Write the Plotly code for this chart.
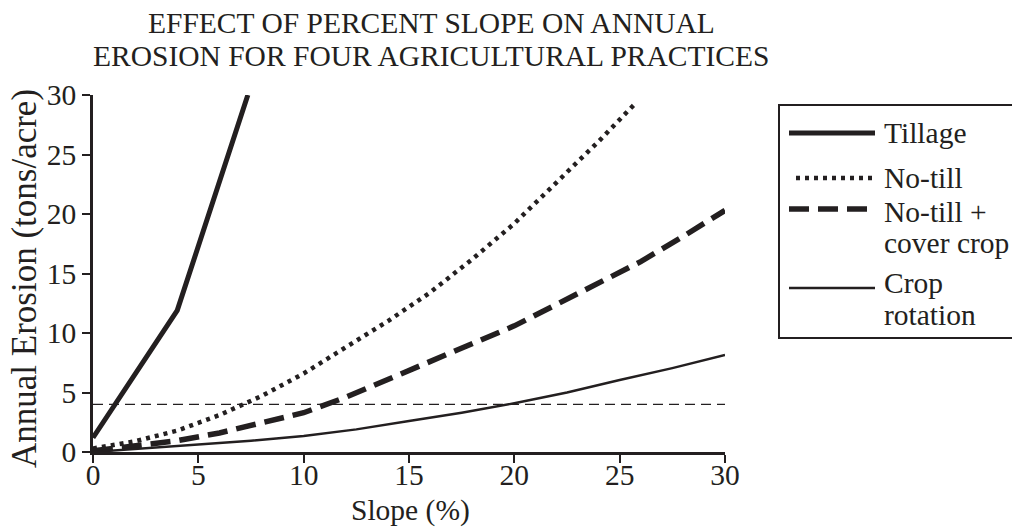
import plotly.graph_objects as go

# ---- data ----
tillage_x = [0, 4, 7.35]
tillage_y = [1.2, 11.9, 30]

notill_x = [0, 2, 4, 6, 8, 10, 12, 14, 16, 18, 20, 22, 24, 25.8]
notill_y = [0.3, 0.9, 1.8, 3.1, 4.7, 6.6, 8.8, 11.0, 13.4, 16.2, 19.2, 22.6, 26.1, 29.4]

cover_x = [0, 2, 4, 6, 8, 10, 12, 14, 16, 18, 20, 22, 24, 26, 28, 30]
cover_y = [0.1, 0.5, 0.95, 1.6, 2.4, 3.3, 4.6, 6.1, 7.5, 9.0, 10.6, 12.4, 14.2, 16.0, 18.1, 20.3]

rotation_x = [0, 2.5, 5, 7.5, 10, 12.5, 15, 17.5, 20, 22.5, 25, 27.5, 30]
rotation_y = [0, 0.3, 0.6, 0.95, 1.35, 1.9, 2.6, 3.3, 4.1, 5.0, 6.05, 7.05, 8.15]

tolerable_loss = 4
x_range = [0, 30]
y_range = [0, 30]
tick_vals = [0, 5, 10, 15, 20, 25, 30]

title_lines = ["EFFECT OF PERCENT SLOPE ON ANNUAL",
               "EROSION FOR FOUR AGRICULTURAL PRACTICES"]
x_title = "Slope (%)"
y_title = "Annual Erosion (tons/acre)"
t_label = "T = tolerable loss"
legend_lines = [("Tillage", 133), ("No-till", 178), ("No-till +", 212),
                ("cover crop", 243), ("Crop", 283), ("rotation", 315)]

FONT = "Liberation Serif, Times New Roman, serif"
INK = "#231f20"
FS = 29.5

series = [
    ("Tillage", tillage_x, tillage_y, dict(width=5, dash="solid")),
    ("No-till", notill_x, notill_y, dict(width=4.5, dash="4px,5px")),
    ("No-till + cover crop", cover_x, cover_y, dict(width=5.5, dash="20px,9px")),
    ("Crop rotation", rotation_x, rotation_y, dict(width=2.4, dash="solid")),
]

fig = go.Figure()

# tolerable loss reference line
fig.add_trace(go.Scatter(
    x=x_range, y=[tolerable_loss, tolerable_loss], mode="lines",
    line=dict(color=INK, width=1.3, dash="10px,6px"),
    showlegend=False, hoverinfo="skip"))

for name, xs, ys, ln in series:
    fig.add_trace(go.Scatter(
        x=xs, y=ys, mode="lines", name=name,
        line=dict(color=INK, width=ln["width"], dash=ln["dash"]),
        showlegend=False))

# ---- custom legend (box, samples, labels) ----
L, R, T, B = 93, 725, 95, 452
def px(xp):
    return (xp - L) / (R - L)
def py(yp):
    return (B - yp) / (B - T)

shapes = [dict(type="rect", xref="paper", yref="paper",
               x0=px(779), x1=px(1040), y0=py(338), y1=py(105),
               line=dict(color=INK, width=2), fillcolor="rgba(0,0,0,0)")]
sample_rows = [133, 178, 209, 288]
sample_x0 = [789, 796, 789, 789]
for (name, xs, ys, ln), yy, x0 in zip(series, sample_rows, sample_x0):
    shapes.append(dict(type="line", xref="paper", yref="paper",
                       x0=px(x0), x1=px(875), y0=py(yy), y1=py(yy),
                       line=dict(color=INK, width=ln["width"], dash=ln["dash"])))

def txt_font(size=FS):
    return dict(family=FONT, size=size, color=INK)

annotations = []
for txt, yy in legend_lines:
    annotations.append(dict(text=txt, xref="paper", yref="paper",
                            x=px(882), y=py(yy), xanchor="left", yanchor="middle",
                            showarrow=False, font=txt_font()))

annotations.append(dict(text=t_label, xref="x", yref="y", x=30.3, y=tolerable_loss,
                        xanchor="left", yanchor="middle", showarrow=False,
                        font=txt_font()))
annotations.append(dict(text=x_title, xref="paper", yref="paper", x=px(410), y=py(510),
                        xanchor="center", yanchor="middle", showarrow=False,
                        font=txt_font()))
annotations.append(dict(text=y_title, xref="paper", yref="paper", x=px(24), y=py(279),
                        xanchor="center", yanchor="middle", textangle=-90, showarrow=False,
                        font=txt_font(35)))
for line, yy in zip(title_lines, [23, 56]):
    annotations.append(dict(text=line, xref="paper", yref="paper", x=px(431), y=py(yy),
                            xanchor="center", yanchor="middle", showarrow=False,
                            font=txt_font()))

axis_common = dict(showline=True, linecolor=INK, linewidth=2.5, ticks="outside",
                   ticklen=8, tickwidth=2, tickcolor=INK, showgrid=False, zeroline=False,
                   tickvals=tick_vals, tickfont=txt_font())

fig.update_layout(
    width=1012, height=527,
    margin=dict(l=L, r=1012 - R, t=T, b=527 - B),
    paper_bgcolor="white", plot_bgcolor="white",
    xaxis=dict(range=x_range, ticklabelstandoff=-13, **axis_common),
    yaxis=dict(range=y_range, **axis_common),
    shapes=shapes, annotations=annotations,
    font=txt_font(),
)

fig.write_html("out.html", config={"displayModeBar": False},
               post_script="document.body.style.margin='0';document.body.style.overflow='hidden';")
